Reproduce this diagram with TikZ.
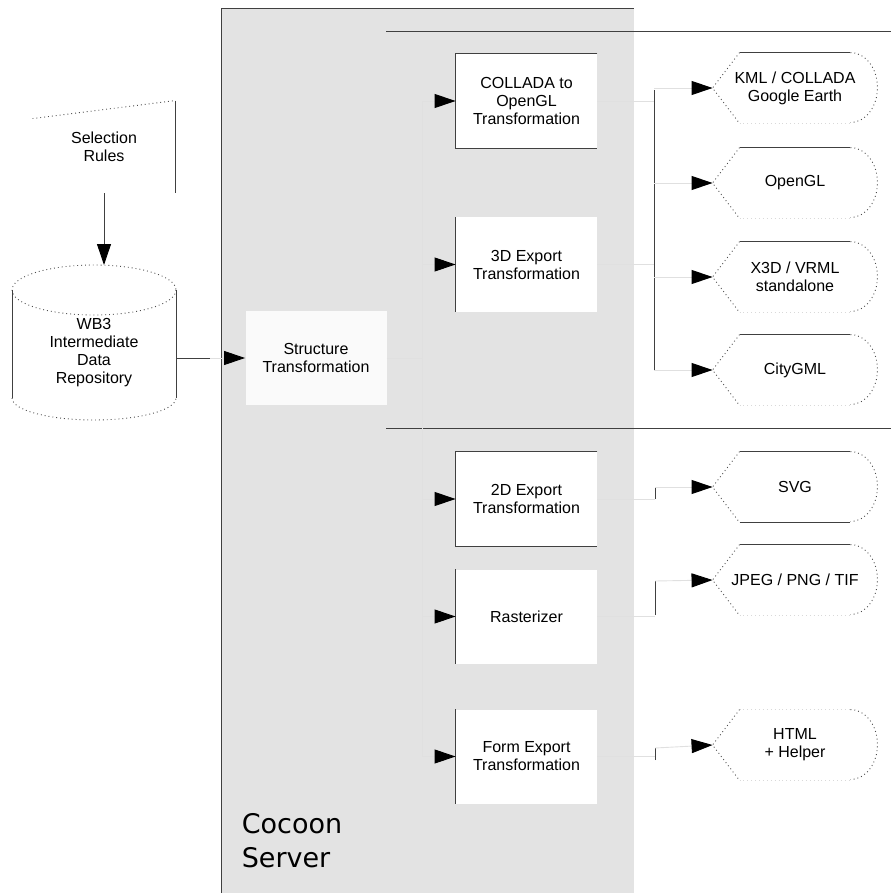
\documentclass[tikz,border=0pt]{standalone}
\usepackage{fontspec}
\setmainfont{Liberation Sans}
\newfontfamily\serverfont{DejaVu Sans}
\usetikzlibrary{arrows.meta,calc}

% outline of an output node: pointed left, round right
\newcommand{\outshape}[3]{%
  \draw[dots] ($(#1.north west)+(27,0)$) -- (#1.west) -- ($(#1.south west)+(27,0)$);
  \draw[#2] ($(#1.north west)+(27,0)$) -- ($(#1.north east)+(-27,0)$);
  \draw[#3] ($(#1.south west)+(27,0)$) -- ($(#1.south east)+(-27,0)$);
  \draw[dots] ($(#1.north east)+(-27,0)$) arc[start angle=-90,end angle=90,x radius=27,y radius=35];}

\begin{document}
\begin{tikzpicture}[x=1pt,y=-1pt,line width=0.9pt,
  tip/.style={-{Triangle[length=21pt,width=14pt,color=black]}},
  line/.style={draw=black!75},
  faint/.style={draw=black!12},
  dots/.style={draw=black!70,dash pattern=on 0.9pt off 3pt},
  soft/.style={draw=black!15,dash pattern=on 0.9pt off 3pt},
  label font/.style={font=\fontsize{16}{18}\selectfont},
  task node/.style={rectangle,fill=white,minimum width=141pt,minimum height=94pt,
    inner sep=0pt,align=center,label font},
  out node/.style={rectangle,minimum width=164pt,minimum height=70pt,
    inner sep=0pt,align=center,label font}]

  \useasboundingbox (0,0) rectangle (891,893);

  % Cocoon server area
  \fill[black!11] (221,8) rectangle (634,893);
  \draw[line] (221,893) -- (221,8) -- (634,8);
  \node[anchor=north west,align=left,font=\serverfont\fontsize{27}{34}\selectfont]
    (server) at (238,810) {Cocoon\\Server};

  % separators
  \draw[line] (386,31) -- (891,31);
  \draw[line] (386,428) -- (891,428);

  % input side
  \node[rectangle,minimum width=142pt,minimum height=92pt,inner sep=0pt,
    align=center,label font] (sel) at (104,147) {Selection\\Rules};
  \draw[dots] ($(sel.north west)+(0,18)$) -- (sel.north east);
  \draw[line] (sel.north east) -- (sel.south east);

  \node[rectangle,minimum width=164pt,minimum height=70pt,inner sep=0pt,
    align=center,label font] (repo) at (94,353) {WB3\\Intermediate\\Data\\Repository};
  \coordinate (repotop) at (94,265);
  \draw[dots] (94,290) ellipse [x radius=82,y radius=25];
  \draw[line] (12,290) -- (12,398);
  \draw[line] (176,290) -- (176,398);
  \draw[dots] (12,398) arc[start angle=180,end angle=0,x radius=82,y radius=22];

  % transformation steps
  \node[task node,fill=black!2] (struct) at (316,358) {Structure\\Transformation};
  \node[task node] (collada) at (526.5,101) {COLLADA to\\OpenGL\\Transformation};
  \node[task node] (export3d) at (526.5,264.5) {3D Export\\Transformation};
  \node[task node] (export2d) at (526.5,499) {2D Export\\Transformation};
  \node[task node] (raster) at (526.5,616.5) {Rasterizer};
  \node[task node] (form) at (526.5,756.5) {Form Export\\Transformation};

  \draw[line] (collada.north east) -- (collada.north west) -- (collada.south west) -- (collada.south east);
  \draw[line] (export3d.north west) -- (export3d.south west);
  \draw[line] (export2d.north east) -- (export2d.north west) -- (export2d.south west) -- (export2d.south east);
  \draw[line] (raster.north west) -- (raster.south west);
  \draw[line] (form.north west) -- (form.south west);

  % outputs
  \node[out node] (kml) at (795,88) {KML / COLLADA\\Google Earth};
  \node[out node] (opengl) at (795,183) {OpenGL};
  \node[out node] (x3d) at (795,277) {X3D / VRML\\standalone};
  \node[out node] (citygml) at (795,370) {CityGML};
  \node[out node] (svg) at (795,487) {SVG};
  \node[out node] (jpeg) at (795,580) {JPEG / PNG / TIF};
  \node[out node] (html) at (795,745) {HTML\\+ Helper};

  \outshape{kml}{line}{soft}
  \outshape{opengl}{line}{soft}
  \outshape{x3d}{line}{soft}
  \outshape{citygml}{line}{soft}
  \outshape{svg}{line}{line}
  \outshape{jpeg}{line}{soft}
  \outshape{html}{soft}{soft}

  % connectors
  \draw[line,tip] (sel.south) -- (sel.south |- repotop);
  \draw[line] (repo.east |- struct.west) -- ++(34,0);
  \draw[faint,tip] ($(repo.east |- struct.west)+(34,0)$) -- (struct.west);

  \coordinate (split) at (422,358);
  \draw[faint] (struct.east) -- (split);
  \draw[faint,tip] (split) |- (collada.west);
  \draw[faint,tip] (split) |- (export3d.west);
  \draw[faint,tip] (split) |- (export2d.west);
  \draw[faint,tip] (split) |- (raster.west);
  \draw[faint,tip] (split) |- (form.west);

  \coordinate (bustop) at (654,90);
  \coordinate (busbot) at (654,370);
  \draw[faint] (collada.east) -- (collada.east -| bustop);
  \draw[faint] (export3d.east) -- (export3d.east -| bustop);
  \draw[line] (bustop) -- (busbot);
  \draw[faint,tip] (bustop |- kml.west) -- (kml.west);
  \draw[faint,tip] (bustop |- opengl.west) -- (opengl.west);
  \draw[faint,tip] (bustop |- x3d.west) -- (x3d.west);
  \draw[faint,tip] (bustop |- citygml.west) -- (citygml.west);

  \draw[faint] (export2d.east) -- ++(58,0);
  \draw[line] (655,499) -- (655,487);
  \draw[faint,tip] (655,487) -- (svg.west);
  \draw[faint] (raster.east) -- ++(58,0);
  \draw[line] (655,615) -- (655,581);
  \draw[faint,tip] (655,581) -- (jpeg.west);
  \draw[faint] (form.east) -- ++(58,0);
  \draw[line] (655,760) -- (655,748);
  \draw[faint,tip] (655,748) -- (html.west);
\end{tikzpicture}
\end{document}
